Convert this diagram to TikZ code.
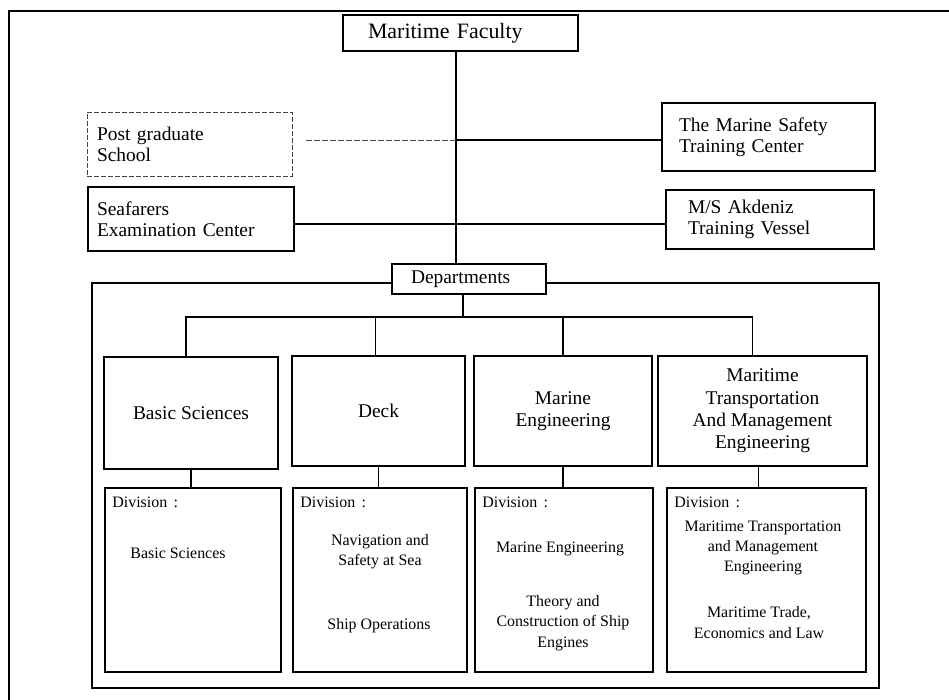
\documentclass[tikz,border=0pt]{standalone}
\usepackage{fontspec}
\setmainfont{Liberation Serif}
\begin{document}
\begin{tikzpicture}[x=1bp,y=-1bp,
  box/.style={draw, line width=1.6bp, inner sep=0pt, align=center},
  lbox/.style={draw, line width=1.6bp, inner ysep=0pt, align=left},
  dbox/.style={draw, line width=0.8bp, black!75, dashed, dash pattern=on 5bp off 2bp, inner ysep=0pt, align=left, text=black},
  conn/.style={line width=1.4bp},
  dconn/.style={line width=0.8bp, black!70, dash pattern=on 6bp off 2bp},
  frame/.style={line width=1.6bp},
  ffac/.style={font=\fontsize{22}{24}\selectfont},
  ftop/.style={font=\fontsize{19.5}{21}\selectfont},
  fdep/.style={font=\fontsize{19.5}{22.5}\selectfont},
  fdiv/.style={font=\fontsize{16}{20.5}\selectfont, inner sep=0pt, align=center},
]
\useasboundingbox (0,0) rectangle (949,700);

% outer frame (cut by the page on the right and bottom)
\draw[frame] (949,11) -- (9,11) -- (9,700);

% top level
\node[lbox, ffac, inner xsep=25bp, text width=185bp, minimum height=36bp] (fac) at (460.5,33) {Maritime Faculty};

\node[dbox, ftop, inner xsep=10bp, text width=185bp, minimum height=64bp] (pg) at (189.5,144) {Post graduate\\School};
\node[lbox, ftop, inner xsep=9bp, text width=188bp, minimum height=64bp] (sf) at (191,219) {Seafarers\\Examination Center};
\node[lbox, ftop, inner xsep=17bp, text width=179bp, minimum height=68bp] (ms) at (768.5,137) {The Marine Safety\\Training Center};
\node[lbox, ftop, inner xsep=22bp, text width=164bp, minimum height=59bp] (ak) at (770,219.5) {M/S Akdeniz\\Training Vessel};

\node[lbox, fdep, inner xsep=19bp, text width=116bp, minimum height=30bp] (dep) at (469,279) {Departments};

% trunk and side branches
\coordinate (tr) at (456,0);
\coordinate (j1) at (456,140);
\coordinate (j2) at (456,224);
\draw[conn] (fac.south -| tr) -- (dep.north -| tr);
\draw[dconn] ([xshift=14bp]pg.east |- j1) -- (j1);
\draw[conn] (j1) -- (j1 -| ms.west);
\draw[conn] (sf.east |- j2) -- (j2) -- (j2 -| ak.west);

% departments frame
\coordinate (fr) at (0,283);
\draw[frame] (dep.west |- fr) -- (92,283) -- (92,688) -- (879,688) -- (879,283) -- (dep.east |- fr);

% department boxes
\node[box, fdep, minimum width=174bp, minimum height=112bp] (b1) at (191,413) {Basic Sciences};
\node[box, fdep, minimum width=173bp, minimum height=110bp] (b2) at (378.5,411) {Deck};
\node[box, fdep, minimum width=178bp, minimum height=110bp] (b3) at (563,411) {Marine\\Engineering};
\node[box, fdep, minimum width=209bp, minimum height=110bp] (b4) at (762.5,411) {Maritime\\Transportation\\And Management\\Engineering};

% bus
\coordinate (bus) at (0,317);
\draw[conn] ([xshift=-6bp]dep.south) -- ([xshift=-6bp]dep.south |- bus);
\draw[conn] ([xshift=-5bp]b1.north) -- ([xshift=-5bp]b1.north |- bus) -- ([xshift=-10bp]b4.north |- bus) -- ([xshift=-10bp]b4.north);
\draw[conn] ([xshift=-3bp]b2.north |- bus) -- ([xshift=-3bp]b2.north);
\draw[conn] (b3.north |- bus) -- (b3.north);

% division boxes
\node[box, minimum width=176bp, minimum height=184bp] (d1) at (193,580) {};
\node[box, minimum width=174bp, minimum height=184bp] (d2) at (380,580) {};
\node[box, minimum width=178bp, minimum height=184bp] (d3) at (564,580) {};
\node[box, minimum width=199bp, minimum height=184bp] (d4) at (766.5,580) {};

\draw[conn] (b1.south) -- (b1.south |- d1.north);
\draw[conn] (b2.south) -- (b2.south |- d2.north);
\draw[conn] (b3.south) -- (b3.south |- d3.north);
\draw[conn] ([xshift=-4bp]b4.south) -- ([xshift=-4bp]b4.south |- d4.north);

% division texts
\node[fdiv, anchor=west] (d1h) at ([xshift=8bp,yshift=-15bp]d1.north west) {Division\hspace{0.4em}:};
\node[fdiv, anchor=west] (d2h) at ([xshift=8bp,yshift=-15bp]d2.north west) {Division\hspace{0.4em}:};
\node[fdiv, anchor=west] (d3h) at ([xshift=8bp,yshift=-15bp]d3.north west) {Division\hspace{0.4em}:};
\node[fdiv, anchor=west] (d4h) at ([xshift=8bp,yshift=-15bp]d4.north west) {Division\hspace{0.4em}:};

\node[fdiv] (d1a) at (178,553) {Basic Sciences};
\node[fdiv] (d2a) at (380,551.5) {Navigation and\\Safety at Sea};
\node[fdiv] (d2b) at (379,626) {Ship Operations};
\node[fdiv] (d3a) at (560,549) {Marine Engineering};
\node[fdiv] (d3b) at (563,623) {Theory and\\Construction of Ship\\Engines};
\node[fdiv] (d4a) at (763,548) {Maritime Transportation\\and Management\\Engineering};
\node[fdiv] (d4b) at (759,622.5) {Maritime Trade,\\Economics and Law};
\end{tikzpicture}
\end{document}
